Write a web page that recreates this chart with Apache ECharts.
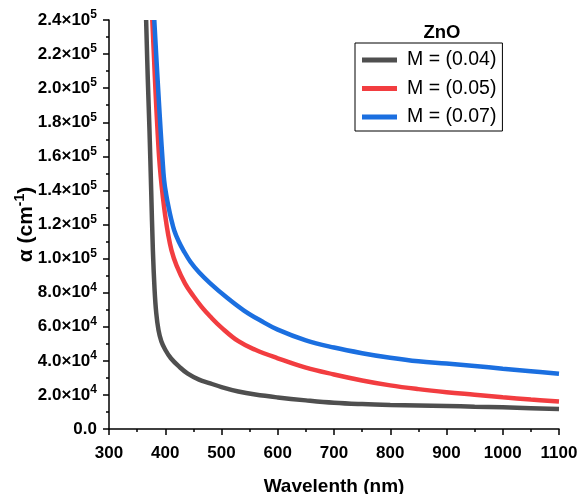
<!DOCTYPE html>
<html>
<head>
<meta charset="utf-8">
<script src="https://cdn.jsdelivr.net/npm/echarts@6/dist/echarts.min.js"></script>
<style>html,body{margin:0;padding:0;background:#fff}#c{width:579px;height:494px}</style>
</head>
<body>
<div id="c"></div>
<script>
// Wavelength (nm) and absorption coefficient alpha (cm^-1) per series
const wl04 = [366, 369, 372, 375, 378, 381, 384, 388, 393, 400, 410, 425, 440, 460, 480, 500, 530, 560, 600, 650, 700, 750, 800, 850, 900, 950, 1000, 1050, 1100];
const a04  = [240000, 205000, 175000, 140000, 105000, 82000, 68000, 58000, 51500, 46500, 41500, 36500, 32500, 29000, 26800, 24600, 22000, 20200, 18500, 16800, 15400, 14600, 14100, 13800, 13500, 13100, 12700, 12200, 11700];

const wl05 = [377, 380, 383, 386, 389, 392, 396, 400, 405, 411, 420, 435, 450, 465, 480, 500, 530, 560, 600, 650, 700, 750, 800, 850, 900, 950, 1000, 1050, 1100];
const a05  = [240000, 218000, 196000, 177000, 160000, 148000, 135500, 125000, 114500, 105000, 96000, 85500, 78000, 71500, 66000, 59500, 51500, 46500, 41500, 36000, 32000, 28500, 25600, 23400, 21600, 20100, 18600, 17300, 16100];

const wl07 = [380.5, 384, 388, 392, 395, 398, 402, 406, 410, 416, 424, 432, 445, 460, 480, 510, 540, 570, 600, 650, 700, 750, 800, 850, 900, 950, 1000, 1050, 1100];
const a07  = [240000, 219000, 196000, 174000, 159000, 146000, 137000, 130000, 124000, 116500, 110000, 105000, 98000, 92000, 85500, 77000, 69500, 63500, 58300, 52000, 47800, 44500, 41800, 39700, 38400, 37000, 35400, 33900, 32400];

const seriesNames = ['M = (0.04)', 'M = (0.05)', 'M = (0.07)'];
const seriesColors = ['#4f4f4f', '#f23d40', '#1b6fe0'];
const xTicks = [300, 400, 500, 600, 700, 800, 900, 1000, 1100];

function pairs(xs, ys) { return xs.map((x, i) => [x, ys[i]]); }

function yLabel(v) {
  if (v === 0) return '{b|0.0}';
  if (v >= 100000) return '{b|' + (v / 100000).toFixed(1) + '×10}{s|5}';
  return '{b|' + (v / 10000).toFixed(1) + '×10}{s|4}';
}

const chart = echarts.init(document.getElementById('c'), null, {renderer: 'canvas'});
const font = 'Liberation Sans, Arial, sans-serif';
const datasets = [pairs(wl04, a04), pairs(wl05, a05), pairs(wl07, a07)];

chart.setOption({
  animation: false,
  backgroundColor: '#fff',
  textStyle: {fontFamily: font},
  title: {
    text: 'ZnO', left: 437, top: 18, textAlign: 'center',
    textStyle: {fontFamily: font, fontSize: 18.5, fontWeight: 'bold', color: '#000'}
  },
  legend: {
    orient: 'vertical', left: 355, top: 43,
    padding: [7, 6, 4, 7],
    itemGap: 8.5,
    itemWidth: 35, itemHeight: 5,
    icon: 'rect',
    borderColor: '#000', borderWidth: 1,
    textStyle: {fontFamily: font, fontSize: 19.5, color: '#000', padding: [0, 0, 0, 5]},
    data: seriesNames
  },
  grid: {left: 109, right: 20, top: 20, bottom: 65, containLabel: false, outerBoundsMode: 'none'},
  xAxis: {
    type: 'value', min: 300, max: 1100, interval: 100,
    name: 'Wavelenth (nm)', nameLocation: 'middle', nameGap: 48, nameMoveOverlap: false,
    nameTextStyle: {fontFamily: font, fontSize: 19, fontWeight: 'bold', color: '#000'},
    axisLine: {show: true, lineStyle: {color: '#000', width: 1.5}},
    axisTick: {show: true, inside: false, length: 6, lineStyle: {color: '#000', width: 1.5}},
    minorTick: {show: true, splitNumber: 2, length: 3, lineStyle: {color: '#000', width: 1.5}},
    axisLabel: {margin: 16, fontFamily: font, fontSize: 17, fontWeight: 'bold', color: '#000',
      formatter: v => xTicks.includes(v) ? String(v) : ''},
    splitLine: {show: false}
  },
  yAxis: {
    type: 'value', min: 0, max: 240000, interval: 20000,
    name: '{a|α (cm}{s|-1}{a|)}', nameLocation: 'middle', nameGap: 70, nameRotate: 90, nameMoveOverlap: false,
    nameTextStyle: {
      rich: {
        a: {fontFamily: font, fontSize: 21, fontWeight: 'bold', color: '#000'},
        s: {fontFamily: font, fontSize: 14, fontWeight: 'bold', color: '#000', verticalAlign: 'top', padding: [0, 0, 12, 0]}
      }
    },
    axisLine: {show: true, lineStyle: {color: '#000', width: 1.5}},
    axisTick: {show: true, inside: false, length: 6, lineStyle: {color: '#000', width: 1.5}},
    minorTick: {show: true, splitNumber: 2, length: 3, lineStyle: {color: '#000', width: 1.5}},
    axisLabel: {
      margin: 12, formatter: yLabel,
      rich: {
        b: {fontFamily: font, fontSize: 17, fontWeight: 'bold', color: '#000'},
        s: {fontFamily: font, fontSize: 12, fontWeight: 'bold', color: '#000', verticalAlign: 'top', padding: [0, 0, 10, 0]}
      }
    },
    splitLine: {show: false}
  },
  series: seriesNames.map((n, i) => ({
    name: n, type: 'line', data: datasets[i], smooth: 0.4, showSymbol: false, symbol: 'none',
    clip: true,
    itemStyle: {color: seriesColors[i]},
    lineStyle: {color: seriesColors[i], width: 4.5}
  }))
});
</script>
</body>
</html>
